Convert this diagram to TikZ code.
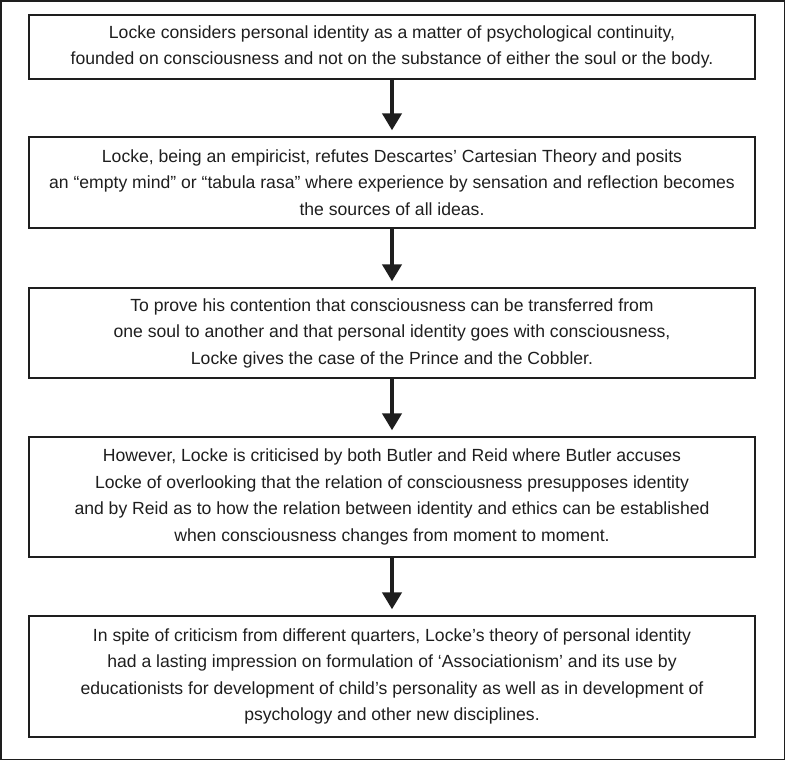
\documentclass[tikz,border=0pt]{standalone}
\usepackage{fontspec}
\setmainfont{Liberation Sans}
\usetikzlibrary{arrows.meta}
\definecolor{ink}{HTML}{1E1E1E}
\begin{document}
\begin{tikzpicture}[x=1pt,y=-1pt,
  box/.style={draw=ink, line width=1.3pt, minimum width=726pt, inner sep=0pt, align=center,
    font=\fontsize{17.6}{26.5}\selectfont, text=ink},
  flow/.style={line width=4pt, draw=ink, fill=ink, -{Triangle[width=19pt,length=17pt]}, shorten >=6pt}]
\useasboundingbox (0,0) rectangle (786,761);
\draw[line width=1.5pt, draw=ink] (1,1) rectangle (784.5,759.5);
\node[box, minimum height=64pt] (b1) at (392,47) {Locke considers personal identity as a matter of psychological continuity,\\founded on consciousness and not on the substance of either the soul or the body.};
\node[box, minimum height=91pt] (b2) at (392,182.5) {Locke, being an empiricist, refutes Descartes’ Cartesian Theory and posits\\an “empty mind” or “tabula rasa” where experience by sensation and reflection becomes\\the sources of all ideas.};
\node[box, minimum height=90pt] (b3) at (392,333) {To prove his contention that consciousness can be transferred from\\one soul to another and that personal identity goes with consciousness,\\Locke gives the case of the Prince and the Cobbler.};
\node[box, minimum height=120pt] (b4) at (392,497) {However, Locke is criticised by both Butler and Reid where Butler accuses\\Locke of overlooking that the relation of consciousness presupposes identity\\and by Reid as to how the relation between identity and ethics can be established\\when consciousness changes from moment to moment.};
\node[box, minimum height=121pt] (b5) at (392,676.5) {In spite of criticism from different quarters, Locke’s theory of personal identity\\had a lasting impression on formulation of ‘Associationism’ and its use by\\educationists for development of child’s personality as well as in development of\\psychology and other new disciplines.};
\draw[flow] (b1.south) -- (b2.north);
\draw[flow] (b2.south) -- (b3.north);
\draw[flow] (b3.south) -- (b4.north);
\draw[flow] (b4.south) -- (b5.north);
\end{tikzpicture}
\end{document}
